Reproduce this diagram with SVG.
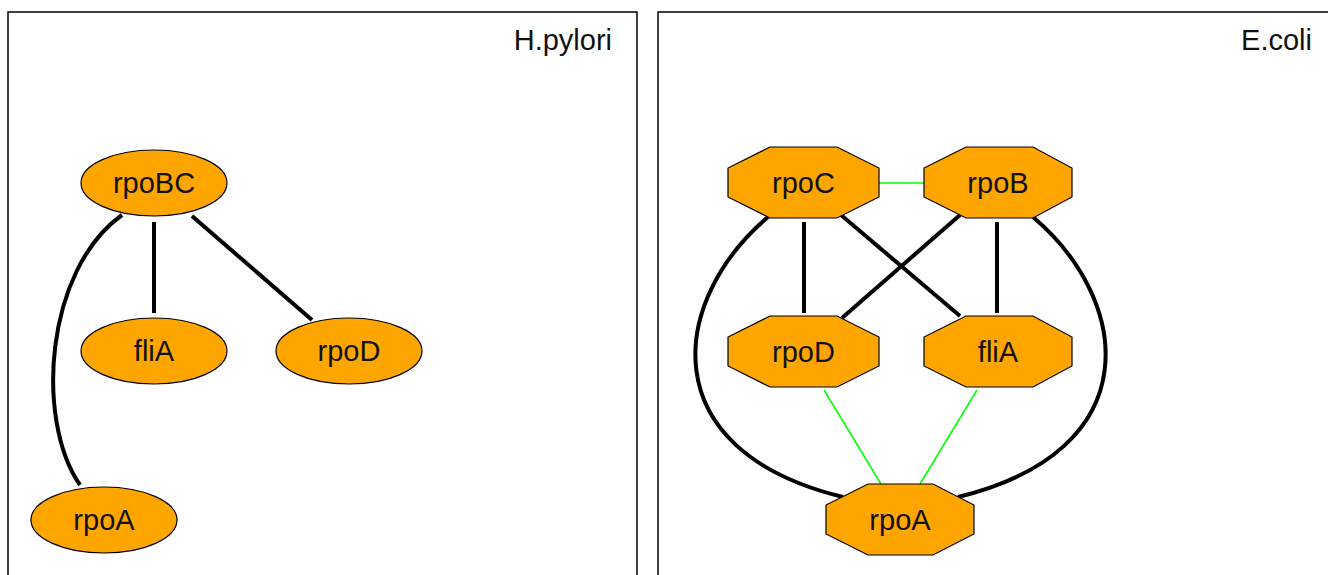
<svg xmlns="http://www.w3.org/2000/svg" width="1328" height="575" viewBox="0 0 1328 575">
<style>
.panel{fill:#fff;stroke:#000;stroke-width:1.5}
.title{font-family:"Liberation Sans",Arial,sans-serif;font-size:29px;fill:#111;text-anchor:end}
.node{fill:#FFA500;stroke:#000;stroke-width:1.2}
.lbl{font-family:"Liberation Sans",Arial,sans-serif;font-size:29px;fill:#111;text-anchor:middle}
.strong{fill:none;stroke:#000;stroke-width:4}
.weak{fill:none;stroke:#00FF00;stroke-width:1.5}
</style>
<rect width="1328" height="575" fill="#fff"/>
<g id="panel-hpylori">
<rect class="panel" x="8" y="12" width="629" height="600"/>
<text class="title" x="612" y="50">H.pylori</text>
</g>
<g id="panel-ecoli">
<rect class="panel" x="658" y="12" width="700" height="600"/>
<text class="title" x="1312" y="50">E.coli</text>
</g>
<g id="connectors">
<line class="strong" x1="154" y1="222" x2="154" y2="313"/>
<line class="strong" x1="192" y1="216" x2="312" y2="320"/>
<path class="strong" d="M122,215 C45,270 35,420 80,485"/>
<line class="weak" x1="879" y1="183" x2="924" y2="183"/>
<line class="strong" x1="804" y1="222" x2="804" y2="313"/>
<line class="strong" x1="997" y1="222" x2="997" y2="313"/>
<line class="strong" x1="841" y1="215" x2="960" y2="316"/>
<line class="strong" x1="960" y1="215" x2="842" y2="318"/>
<path class="strong" d="M768,217 C670,300 650,450 843,497"/>
<path class="strong" d="M1033,217 C1131,300 1151,450 958,497"/>
<line class="weak" x1="824" y1="390" x2="881" y2="484"/>
<line class="weak" x1="977" y1="390" x2="920" y2="484"/>
</g>
<g id="hp-rpoBC"><ellipse class="node" cx="154" cy="183" rx="73" ry="33"/><text class="lbl" x="154" y="193">rpoBC</text></g>
<g id="hp-fliA"><ellipse class="node" cx="154" cy="351" rx="73" ry="33"/><text class="lbl" x="154" y="361">fliA</text></g>
<g id="hp-rpoD"><ellipse class="node" cx="349" cy="351" rx="73" ry="33"/><text class="lbl" x="349" y="361">rpoD</text></g>
<g id="hp-rpoA"><ellipse class="node" cx="104" cy="520" rx="73" ry="33"/><text class="lbl" x="104" y="530">rpoA</text></g>
<g id="ec-rpoC"><polygon class="node" points="770,147 837,147 879,168 879,197 837,218 770,218 728,197 728,168"/><text class="lbl" x="803.5" y="193">rpoC</text></g>
<g id="ec-rpoB"><polygon class="node" points="966,147 1033,147 1072,168 1072,197 1033,218 966,218 924,197 924,168"/><text class="lbl" x="998" y="193">rpoB</text></g>
<g id="ec-rpoD"><polygon class="node" points="770,316 837,316 879,337 879,366 837,387 770,387 728,366 728,337"/><text class="lbl" x="803.5" y="362">rpoD</text></g>
<g id="ec-fliA"><polygon class="node" points="966,316 1033,316 1072,337 1072,366 1033,387 966,387 924,366 924,337"/><text class="lbl" x="998" y="362">fliA</text></g>
<g id="ec-rpoA"><polygon class="node" points="868,484 933,484 974,505 974,534 933,555 868,555 826,534 826,505"/><text class="lbl" x="900" y="530">rpoA</text></g>
</svg>
